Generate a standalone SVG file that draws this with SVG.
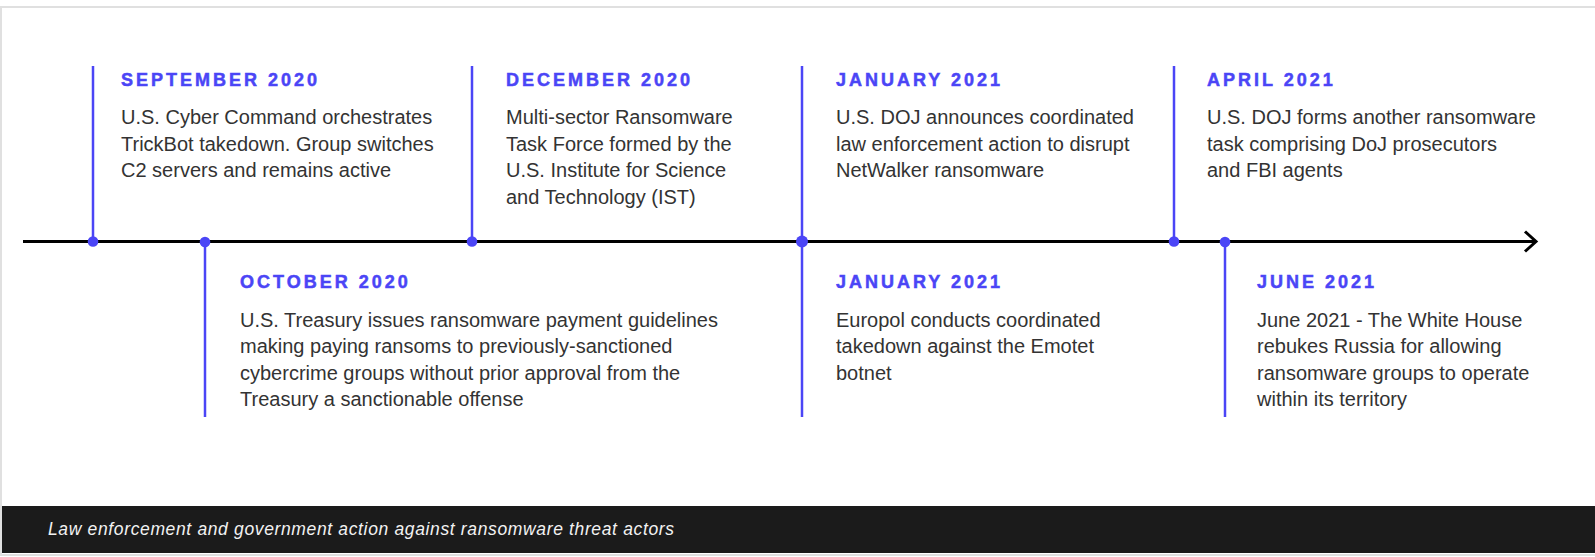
<svg xmlns="http://www.w3.org/2000/svg" width="1595" height="557" viewBox="0 0 1595 557">
  <defs>
    <style>
      .stem { stroke: #4b45f6; stroke-width: 2.5; fill: none; }
      .dot { fill: #4b45f6; }
      .head { font-family: "Liberation Sans", Arial, sans-serif; font-weight: bold; font-size: 18px; fill: #4b45f6; stroke: #4b45f6; stroke-width: 0.5; letter-spacing: 3px; }
      .body { font-family: "Liberation Sans", Arial, sans-serif; font-size: 20px; fill: #333; }
      .cap { font-family: "Liberation Sans", Arial, sans-serif; font-style: italic; font-size: 17.5px; fill: #f2f2f2; }
    </style>
    <marker id="chev" markerUnits="userSpaceOnUse" markerWidth="30" markerHeight="30" viewBox="-15 -15 30 30" refX="0" refY="0" orient="auto">
      <path d="M -11 -10 L 0 0 L -11 10" fill="none" stroke="#000" stroke-width="3" stroke-linejoin="miter"/>
    </marker>
  </defs>

  <rect x="1" y="7" width="1602" height="548" fill="#fff" stroke="#e0e0e0" stroke-width="2"/>

  <g id="connectors">
    <line x1="23" y1="241.5" x2="1536" y2="241.5" stroke="#000" stroke-width="3" marker-end="url(#chev)"/>
  </g>

  <g id="sep2020">
    <line class="stem" x1="93" y1="66" x2="93" y2="241"/>
    <circle class="dot" cx="93" cy="241.5" r="5.3"/>
    <text class="head" x="121" y="86">SEPTEMBER 2020</text>
    <text class="body" x="121" y="124">U.S. Cyber Command orchestrates</text>
    <text class="body" x="121" y="150.5">TrickBot takedown. Group switches</text>
    <text class="body" x="121" y="177">C2 servers and remains active</text>
  </g>

  <g id="oct2020">
    <line class="stem" x1="205" y1="242" x2="205" y2="417"/>
    <circle class="dot" cx="205" cy="242" r="5.3"/>
    <text class="head" x="240" y="288">OCTOBER 2020</text>
    <text class="body" x="240" y="326.5">U.S. Treasury issues ransomware payment guidelines</text>
    <text class="body" x="240" y="353">making paying ransoms to previously-sanctioned</text>
    <text class="body" x="240" y="379.5">cybercrime groups without prior approval from the</text>
    <text class="body" x="240" y="406">Treasury a sanctionable offense</text>
  </g>

  <g id="dec2020">
    <line class="stem" x1="472" y1="66" x2="472" y2="241"/>
    <circle class="dot" cx="472" cy="241.5" r="5.3"/>
    <text class="head" x="506" y="86">DECEMBER 2020</text>
    <text class="body" x="506" y="124">Multi-sector Ransomware</text>
    <text class="body" x="506" y="150.5">Task Force formed by the</text>
    <text class="body" x="506" y="177">U.S. Institute for Science</text>
    <text class="body" x="506" y="203.5">and Technology (IST)</text>
  </g>

  <g id="jan2021">
    <line class="stem" x1="802" y1="66" x2="802" y2="417"/>
    <circle class="dot" cx="802" cy="241.5" r="6"/>
    <text class="head" x="836" y="86">JANUARY 2021</text>
    <text class="body" x="836" y="124">U.S. DOJ announces coordinated</text>
    <text class="body" x="836" y="150.5">law enforcement action to disrupt</text>
    <text class="body" x="836" y="177">NetWalker ransomware</text>
  </g>

  <g id="jan2021b">
    <text class="head" x="836" y="288">JANUARY 2021</text>
    <text class="body" x="836" y="326.5">Europol conducts coordinated</text>
    <text class="body" x="836" y="353">takedown against the Emotet</text>
    <text class="body" x="836" y="379.5">botnet</text>
  </g>

  <g id="apr2021">
    <line class="stem" x1="1174" y1="66" x2="1174" y2="241"/>
    <circle class="dot" cx="1174" cy="241.5" r="5.3"/>
    <text class="head" x="1207" y="86">APRIL 2021</text>
    <text class="body" x="1207" y="124">U.S. DOJ forms another ransomware</text>
    <text class="body" x="1207" y="150.5">task comprising DoJ prosecutors</text>
    <text class="body" x="1207" y="177">and FBI agents</text>
  </g>

  <g id="jun2021">
    <line class="stem" x1="1225" y1="242" x2="1225" y2="417"/>
    <circle class="dot" cx="1225" cy="242" r="5.3"/>
    <text class="head" x="1257" y="288">JUNE 2021</text>
    <text class="body" x="1257" y="326.5">June 2021 - The White House</text>
    <text class="body" x="1257" y="353">rebukes Russia for allowing</text>
    <text class="body" x="1257" y="379.5">ransomware groups to operate</text>
    <text class="body" x="1257" y="406">within its territory</text>
  </g>

  <g id="caption">
    <rect x="2" y="506" width="1600" height="47" fill="#1b1b1b"/>
    <text class="cap" x="48" y="535" textLength="626" lengthAdjust="spacing">Law enforcement and government action against ransomware threat actors</text>
  </g>
</svg>
